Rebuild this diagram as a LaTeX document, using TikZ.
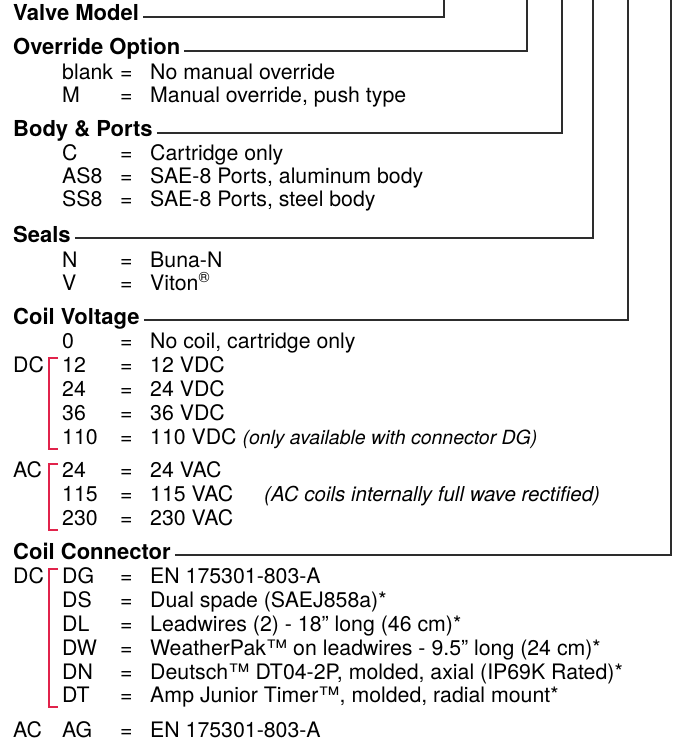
\documentclass[tikz,border=0pt]{standalone}
\usepackage{fontspec}
\setmainfont{TeX Gyre Heros}
\usetikzlibrary{calc}
\definecolor{leadgray}{RGB}{45,45,45}
\definecolor{selred}{RGB}{225,35,75}
\newcommand{\option}[4] % name, baseline y in px, code, meaning
{
	% code letter
	\node[code] (#1-c) at (62,#2) {#3};
	% equals sign
	\node[code] (#1-e) at (120,#2) {=};
	% meaning
	\node[code] (#1-d) at (150,#2) {#4};
}
\newcommand{\selbracket}[3] % x, top y, bottom y
{
	\draw[bracket] (#1+9,#2) -- (#1,#2) -- (#1,#3) -- (#1+9,#3);
}
\newcommand{\remark}[1]{{\fontsize{19.5}{24}\selectfont\itshape #1}}
\tikzset{
	code/.style={anchor=base west, inner sep=0pt, font=\fontsize{21.3}{24}\selectfont},
	head/.style={anchor=base west, inner ysep=0pt, inner xsep=4pt, text height=12pt, text depth=4pt, font=\fontsize{22}{24}\selectfont\bfseries},
	lead/.style={draw=leadgray, line width=1.2pt},
	bracket/.style={draw=selred, line width=1.3pt}
}
\begin{document}
\begin{tikzpicture}[x=1pt, y=-1pt]
	\useasboundingbox (0,0) rectangle (681,743);

	% tops of the lead lines
	\coordinate (vm-top) at (444,0);
	\coordinate (ov-top) at (527,0);
	\coordinate (bp-top) at (562,0);
	\coordinate (se-top) at (593,0);
	\coordinate (cv-top) at (628,0);
	\coordinate (cc-top) at (671,0);

	% valve model
	\node[head] (vm) at (9,21) {Valve Model};
	\draw[lead] (vm.east) -| (vm-top);

	% override option
	\node[head] (ov) at (9,55) {Override Option};
	\draw[lead] (ov.east) -| (ov-top);
	\option{ovb}{80}{blank}{No manual override}
	\option{ovm}{103}{M}{Manual override, push type}

	% body and ports
	\node[head] (bp) at (9,137) {Body \& Ports};
	\draw[lead] (bp.east) -| (bp-top);
	\option{bpc}{161}{C}{Cartridge only}
	\option{bpa}{184}{AS8}{SAE-8 Ports, aluminum body}
	\option{bps}{207}{SS8}{SAE-8 Ports, steel body}

	% seals
	\node[head] (se) at (9,242) {Seals};
	\draw[lead] (se.east) -| (se-top);
	\option{sen}{267}{N}{Buna-N}
	\option{sev}{290}{V}{Viton\textsuperscript{®}}

	% coil voltage
	\node[head] (cv) at (9,324) {Coil Voltage};
	\draw[lead] (cv.east) -| (cv-top);
	\option{cv0}{348}{0}{No coil, cartridge only}
	\node[code] (cv-dc) at (13,372) {DC};
	\option{cv12}{372}{12}{12 VDC}
	\option{cv24}{396}{24}{24 VDC}
	\option{cv36}{420}{36}{36 VDC}
	\option{cv110}{444}{110}{110 VDC \remark{(only available with connector DG)}}
	\selbracket{49}{358}{449}
	\node[code] (cv-ac) at (13,477) {AC};
	\option{cva24}{477}{24}{24 VAC}
	\option{cva115}{501}{115}{115 VAC}
	\option{cva230}{525}{230}{230 VAC}
	\node[code, font=\fontsize{20.5}{24}\selectfont\itshape] (cv-note) at (264,501) {(AC coils internally full wave rectified)};
	\selbracket{49}{464}{530}

	% coil connector
	\node[head] (cc) at (9,559) {Coil Connector};
	\draw[lead] (cc.east) -| (cc-top);
	\node[code] (cc-dc) at (13,583) {DC};
	\option{ccg}{583}{DG}{EN 175301-803-A}
	\option{ccs}{607}{DS}{Dual spade (SAEJ858a)*}
	\option{ccl}{631}{DL}{Leadwires (2) - 18” long (46 cm)*}
	\option{ccw}{655}{DW}{WeatherPak™ on leadwires - 9.5” long (24 cm)*}
	\option{ccn}{679}{DN}{Deutsch™ DT04-2P, molded, axial (IP69K Rated)*}
	\option{cct}{702}{DT}{Amp Junior Timer™, molded, radial mount*}
	\selbracket{49}{569}{707}
	\node[code] (cc-ac) at (13,737) {AC};
	\option{cca}{737}{AG}{EN 175301-803-A}
\end{tikzpicture}
\end{document}
